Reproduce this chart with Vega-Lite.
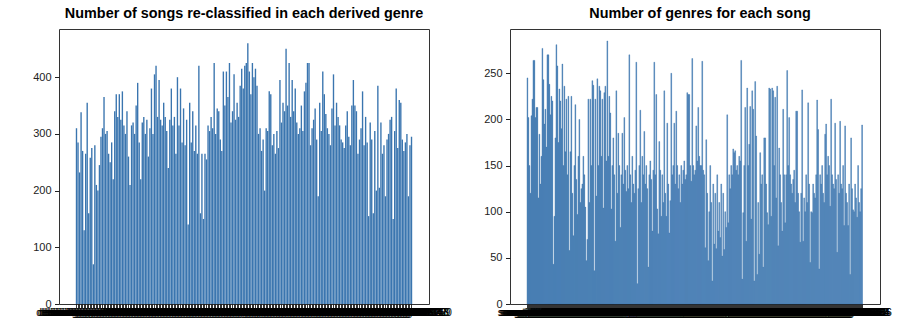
{
"$schema": "https://vega.github.io/schema/vega-lite/v6.json",
"padding": {"left": 32, "top": 5, "right": 0, "bottom": 0},
"spacing": 31,
"config": {
  "view": {"stroke": "#333", "strokeWidth": 1},
  "font": "Liberation Sans",
  "title": {"fontSize": 14.4, "fontWeight": "bold", "color": "#000", "font": "Liberation Sans", "offset": 8},
  "axis": {"grid": false, "domain": false, "tickColor": "#222", "labelColor": "#222", "labelFont": "Liberation Sans", "title": null}
},
"datasets": {
"genres": [
{"genre":"derived genre 001","songs":310},{"genre":"derived genre 002","songs":285},{"genre":"derived genre 003","songs":232},{"genre":"derived genre 004","songs":338},{"genre":"derived genre 005","songs":270},
{"genre":"derived genre 006","songs":130},{"genre":"derived genre 007","songs":265},{"genre":"derived genre 008","songs":355},{"genre":"derived genre 009","songs":160},{"genre":"derived genre 010","songs":258},
{"genre":"derived genre 011","songs":275},{"genre":"derived genre 012","songs":70},{"genre":"derived genre 013","songs":280},{"genre":"derived genre 014","songs":210},{"genre":"derived genre 015","songs":200},
{"genre":"derived genre 016","songs":245},{"genre":"derived genre 017","songs":295},{"genre":"derived genre 018","songs":310},{"genre":"derived genre 019","songs":365},{"genre":"derived genre 020","songs":300},
{"genre":"derived genre 021","songs":305},{"genre":"derived genre 022","songs":265},{"genre":"derived genre 023","songs":250},{"genre":"derived genre 024","songs":285},{"genre":"derived genre 025","songs":220},
{"genre":"derived genre 026","songs":340},{"genre":"derived genre 027","songs":370},{"genre":"derived genre 028","songs":330},{"genre":"derived genre 029","songs":370},{"genre":"derived genre 030","songs":325},
{"genre":"derived genre 031","songs":375},{"genre":"derived genre 032","songs":315},{"genre":"derived genre 033","songs":300},{"genre":"derived genre 034","songs":340},{"genre":"derived genre 035","songs":260},
{"genre":"derived genre 036","songs":210},{"genre":"derived genre 037","songs":315},{"genre":"derived genre 038","songs":320},{"genre":"derived genre 039","songs":300},{"genre":"derived genre 040","songs":350},
{"genre":"derived genre 041","songs":390},{"genre":"derived genre 042","songs":285},{"genre":"derived genre 043","songs":220},{"genre":"derived genre 044","songs":320},{"genre":"derived genre 045","songs":330},
{"genre":"derived genre 046","songs":300},{"genre":"derived genre 047","songs":325},{"genre":"derived genre 048","songs":260},{"genre":"derived genre 049","songs":310},{"genre":"derived genre 050","songs":380},
{"genre":"derived genre 051","songs":300},{"genre":"derived genre 052","songs":405},{"genre":"derived genre 053","songs":420},{"genre":"derived genre 054","songs":330},{"genre":"derived genre 055","songs":395},
{"genre":"derived genre 056","songs":325},{"genre":"derived genre 057","songs":315},{"genre":"derived genre 058","songs":355},{"genre":"derived genre 059","songs":330},{"genre":"derived genre 060","songs":305},
{"genre":"derived genre 061","songs":240},{"genre":"derived genre 062","songs":325},{"genre":"derived genre 063","songs":380},{"genre":"derived genre 064","songs":315},{"genre":"derived genre 065","songs":330},
{"genre":"derived genre 066","songs":265},{"genre":"derived genre 067","songs":400},{"genre":"derived genre 068","songs":315},{"genre":"derived genre 069","songs":380},{"genre":"derived genre 070","songs":285},
{"genre":"derived genre 071","songs":345},{"genre":"derived genre 072","songs":280},{"genre":"derived genre 073","songs":325},{"genre":"derived genre 074","songs":140},{"genre":"derived genre 075","songs":355},
{"genre":"derived genre 076","songs":285},{"genre":"derived genre 077","songs":340},{"genre":"derived genre 078","songs":270},{"genre":"derived genre 079","songs":315},{"genre":"derived genre 080","songs":265},
{"genre":"derived genre 081","songs":420},{"genre":"derived genre 082","songs":160},{"genre":"derived genre 083","songs":265},{"genre":"derived genre 084","songs":150},{"genre":"derived genre 085","songs":265},
{"genre":"derived genre 086","songs":255},{"genre":"derived genre 087","songs":315},{"genre":"derived genre 088","songs":305},{"genre":"derived genre 089","songs":330},{"genre":"derived genre 090","songs":310},
{"genre":"derived genre 091","songs":425},{"genre":"derived genre 092","songs":300},{"genre":"derived genre 093","songs":345},{"genre":"derived genre 094","songs":340},{"genre":"derived genre 095","songs":290},
{"genre":"derived genre 096","songs":270},{"genre":"derived genre 097","songs":410},{"genre":"derived genre 098","songs":350},{"genre":"derived genre 099","songs":410},{"genre":"derived genre 100","songs":365},
{"genre":"derived genre 101","songs":425},{"genre":"derived genre 102","songs":320},{"genre":"derived genre 103","songs":340},{"genre":"derived genre 104","songs":405},{"genre":"derived genre 105","songs":325},
{"genre":"derived genre 106","songs":355},{"genre":"derived genre 107","songs":330},{"genre":"derived genre 108","songs":385},{"genre":"derived genre 109","songs":415},{"genre":"derived genre 110","songs":380},
{"genre":"derived genre 111","songs":420},{"genre":"derived genre 112","songs":425},{"genre":"derived genre 113","songs":460},{"genre":"derived genre 114","songs":410},{"genre":"derived genre 115","songs":370},
{"genre":"derived genre 116","songs":425},{"genre":"derived genre 117","songs":400},{"genre":"derived genre 118","songs":415},{"genre":"derived genre 119","songs":385},{"genre":"derived genre 120","songs":300},
{"genre":"derived genre 121","songs":310},{"genre":"derived genre 122","songs":270},{"genre":"derived genre 123","songs":290},{"genre":"derived genre 124","songs":200},{"genre":"derived genre 125","songs":310},
{"genre":"derived genre 126","songs":305},{"genre":"derived genre 127","songs":375},{"genre":"derived genre 128","songs":370},{"genre":"derived genre 129","songs":280},{"genre":"derived genre 130","songs":300},
{"genre":"derived genre 131","songs":265},{"genre":"derived genre 132","songs":305},{"genre":"derived genre 133","songs":275},{"genre":"derived genre 134","songs":395},{"genre":"derived genre 135","songs":320},
{"genre":"derived genre 136","songs":355},{"genre":"derived genre 137","songs":340},{"genre":"derived genre 138","songs":450},{"genre":"derived genre 139","songs":350},{"genre":"derived genre 140","songs":425},
{"genre":"derived genre 141","songs":330},{"genre":"derived genre 142","songs":395},{"genre":"derived genre 143","songs":340},{"genre":"derived genre 144","songs":380},{"genre":"derived genre 145","songs":320},
{"genre":"derived genre 146","songs":300},{"genre":"derived genre 147","songs":310},{"genre":"derived genre 148","songs":350},{"genre":"derived genre 149","songs":305},{"genre":"derived genre 150","songs":375},
{"genre":"derived genre 151","songs":390},{"genre":"derived genre 152","songs":425},{"genre":"derived genre 153","songs":425},{"genre":"derived genre 154","songs":280},{"genre":"derived genre 155","songs":310},
{"genre":"derived genre 156","songs":325},{"genre":"derived genre 157","songs":345},{"genre":"derived genre 158","songs":290},{"genre":"derived genre 159","songs":190},{"genre":"derived genre 160","songs":355},
{"genre":"derived genre 161","songs":305},{"genre":"derived genre 162","songs":410},{"genre":"derived genre 163","songs":370},{"genre":"derived genre 164","songs":335},{"genre":"derived genre 165","songs":310},
{"genre":"derived genre 166","songs":300},{"genre":"derived genre 167","songs":280},{"genre":"derived genre 168","songs":345},{"genre":"derived genre 169","songs":405},{"genre":"derived genre 170","songs":315},
{"genre":"derived genre 171","songs":355},{"genre":"derived genre 172","songs":330},{"genre":"derived genre 173","songs":315},{"genre":"derived genre 174","songs":290},{"genre":"derived genre 175","songs":285},
{"genre":"derived genre 176","songs":275},{"genre":"derived genre 177","songs":315},{"genre":"derived genre 178","songs":340},{"genre":"derived genre 179","songs":295},{"genre":"derived genre 180","songs":280},
{"genre":"derived genre 181","songs":350},{"genre":"derived genre 182","songs":395},{"genre":"derived genre 183","songs":350},{"genre":"derived genre 184","songs":340},{"genre":"derived genre 185","songs":265},
{"genre":"derived genre 186","songs":290},{"genre":"derived genre 187","songs":310},{"genre":"derived genre 188","songs":375},{"genre":"derived genre 189","songs":280},{"genre":"derived genre 190","songs":330},
{"genre":"derived genre 191","songs":285},{"genre":"derived genre 192","songs":155},{"genre":"derived genre 193","songs":320},{"genre":"derived genre 194","songs":290},{"genre":"derived genre 195","songs":160},
{"genre":"derived genre 196","songs":305},{"genre":"derived genre 197","songs":200},{"genre":"derived genre 198","songs":385},{"genre":"derived genre 199","songs":205},{"genre":"derived genre 200","songs":320},
{"genre":"derived genre 201","songs":265},{"genre":"derived genre 202","songs":280},{"genre":"derived genre 203","songs":190},{"genre":"derived genre 204","songs":290},{"genre":"derived genre 205","songs":300},
{"genre":"derived genre 206","songs":325},{"genre":"derived genre 207","songs":330},{"genre":"derived genre 208","songs":150},{"genre":"derived genre 209","songs":305},{"genre":"derived genre 210","songs":380},
{"genre":"derived genre 211","songs":275},{"genre":"derived genre 212","songs":360},{"genre":"derived genre 213","songs":355},{"genre":"derived genre 214","songs":290},{"genre":"derived genre 215","songs":270},
{"genre":"derived genre 216","songs":285},{"genre":"derived genre 217","songs":300},{"genre":"derived genre 218","songs":190},{"genre":"derived genre 219","songs":280},{"genre":"derived genre 220","songs":295}
],
"songs": [
{"song":"song title 001","genres":245},{"song":"song title 002","genres":202},{"song":"song title 003","genres":150},{"song":"song title 004","genres":120},{"song":"song title 005","genres":204},
{"song":"song title 006","genres":222},{"song":"song title 007","genres":264},{"song":"song title 008","genres":264},{"song":"song title 009","genres":202},{"song":"song title 010","genres":213},
{"song":"song title 011","genres":213},{"song":"song title 012","genres":115},{"song":"song title 013","genres":184},{"song":"song title 014","genres":130},{"song":"song title 015","genres":160},
{"song":"song title 016","genres":277},{"song":"song title 017","genres":243},{"song":"song title 018","genres":195},{"song":"song title 019","genres":211},{"song":"song title 020","genres":170},
{"song":"song title 021","genres":270},{"song":"song title 022","genres":270},{"song":"song title 023","genres":238},{"song":"song title 024","genres":205},{"song":"song title 025","genres":225},
{"song":"song title 026","genres":220},{"song":"song title 027","genres":43},{"song":"song title 028","genres":95},{"song":"song title 029","genres":180},{"song":"song title 030","genres":281},
{"song":"song title 031","genres":258},{"song":"song title 032","genres":175},{"song":"song title 033","genres":233},{"song":"song title 034","genres":220},{"song":"song title 035","genres":190},
{"song":"song title 036","genres":260},{"song":"song title 037","genres":150},{"song":"song title 038","genres":236},{"song":"song title 039","genres":165},{"song":"song title 040","genres":222},
{"song":"song title 041","genres":140},{"song":"song title 042","genres":225},{"song":"song title 043","genres":58},{"song":"song title 044","genres":165},{"song":"song title 045","genres":225},
{"song":"song title 046","genres":120},{"song":"song title 047","genres":74},{"song":"song title 048","genres":150},{"song":"song title 049","genres":216},{"song":"song title 050","genres":135},
{"song":"song title 051","genres":97},{"song":"song title 052","genres":160},{"song":"song title 053","genres":200},{"song":"song title 054","genres":110},{"song":"song title 055","genres":125},
{"song":"song title 056","genres":130},{"song":"song title 057","genres":160},{"song":"song title 058","genres":140},{"song":"song title 059","genres":105},{"song":"song title 060","genres":47},
{"song":"song title 061","genres":70},{"song":"song title 062","genres":222},{"song":"song title 063","genres":110},{"song":"song title 064","genres":222},{"song":"song title 065","genres":150},
{"song":"song title 066","genres":242},{"song":"song title 067","genres":237},{"song":"song title 068","genres":36},{"song":"song title 069","genres":222},{"song":"song title 070","genres":117},
{"song":"song title 071","genres":244},{"song":"song title 072","genres":150},{"song":"song title 073","genres":236},{"song":"song title 074","genres":231},{"song":"song title 075","genres":160},
{"song":"song title 076","genres":222},{"song":"song title 077","genres":104},{"song":"song title 078","genres":229},{"song":"song title 079","genres":236},{"song":"song title 080","genres":155},
{"song":"song title 081","genres":285},{"song":"song title 082","genres":160},{"song":"song title 083","genres":225},{"song":"song title 084","genres":207},{"song":"song title 085","genres":103},
{"song":"song title 086","genres":150},{"song":"song title 087","genres":180},{"song":"song title 088","genres":140},{"song":"song title 089","genres":68},{"song":"song title 090","genres":231},
{"song":"song title 091","genres":120},{"song":"song title 092","genres":185},{"song":"song title 093","genres":150},{"song":"song title 094","genres":83},{"song":"song title 095","genres":140},
{"song":"song title 096","genres":185},{"song":"song title 097","genres":130},{"song":"song title 098","genres":202},{"song":"song title 099","genres":145},{"song":"song title 100","genres":122},
{"song":"song title 101","genres":150},{"song":"song title 102","genres":125},{"song":"song title 103","genres":270},{"song":"song title 104","genres":140},{"song":"song title 105","genres":110},
{"song":"song title 106","genres":160},{"song":"song title 107","genres":130},{"song":"song title 108","genres":120},{"song":"song title 109","genres":145},{"song":"song title 110","genres":262},
{"song":"song title 111","genres":22},{"song":"song title 112","genres":125},{"song":"song title 113","genres":150},{"song":"song title 114","genres":210},{"song":"song title 115","genres":110},
{"song":"song title 116","genres":160},{"song":"song title 117","genres":140},{"song":"song title 118","genres":187},{"song":"song title 119","genres":130},{"song":"song title 120","genres":150},
{"song":"song title 121","genres":125},{"song":"song title 122","genres":40},{"song":"song title 123","genres":140},{"song":"song title 124","genres":155},{"song":"song title 125","genres":135},
{"song":"song title 126","genres":79},{"song":"song title 127","genres":145},{"song":"song title 128","genres":262},{"song":"song title 129","genres":140},{"song":"song title 130","genres":227},
{"song":"song title 131","genres":103},{"song":"song title 132","genres":76},{"song":"song title 133","genres":176},{"song":"song title 134","genres":145},{"song":"song title 135","genres":95},
{"song":"song title 136","genres":140},{"song":"song title 137","genres":110},{"song":"song title 138","genres":231},{"song":"song title 139","genres":120},{"song":"song title 140","genres":95},
{"song":"song title 141","genres":196},{"song":"song title 142","genres":130},{"song":"song title 143","genres":77},{"song":"song title 144","genres":112},{"song":"song title 145","genres":250},
{"song":"song title 146","genres":140},{"song":"song title 147","genres":150},{"song":"song title 148","genres":196},{"song":"song title 149","genres":130},{"song":"song title 150","genres":209},
{"song":"song title 151","genres":150},{"song":"song title 152","genres":125},{"song":"song title 153","genres":140},{"song":"song title 154","genres":110},{"song":"song title 155","genres":150},
{"song":"song title 156","genres":130},{"song":"song title 157","genres":145},{"song":"song title 158","genres":155},{"song":"song title 159","genres":135},{"song":"song title 160","genres":140},
{"song":"song title 161","genres":229},{"song":"song title 162","genres":227},{"song":"song title 163","genres":227},{"song":"song title 164","genres":150},{"song":"song title 165","genres":133},
{"song":"song title 166","genres":266},{"song":"song title 167","genres":150},{"song":"song title 168","genres":140},{"song":"song title 169","genres":145},{"song":"song title 170","genres":193},
{"song":"song title 171","genres":155},{"song":"song title 172","genres":213},{"song":"song title 173","genres":160},{"song":"song title 174","genres":150},{"song":"song title 175","genres":150},
{"song":"song title 176","genres":263},{"song":"song title 177","genres":145},{"song":"song title 178","genres":140},{"song":"song title 179","genres":61},{"song":"song title 180","genres":178},
{"song":"song title 181","genres":120},{"song":"song title 182","genres":47},{"song":"song title 183","genres":100},{"song":"song title 184","genres":150},{"song":"song title 185","genres":110},
{"song":"song title 186","genres":25},{"song":"song title 187","genres":130},{"song":"song title 188","genres":65},{"song":"song title 189","genres":120},{"song":"song title 190","genres":60},
{"song":"song title 191","genres":140},{"song":"song title 192","genres":79},{"song":"song title 193","genres":110},{"song":"song title 194","genres":72},{"song":"song title 195","genres":130},
{"song":"song title 196","genres":52},{"song":"song title 197","genres":120},{"song":"song title 198","genres":59},{"song":"song title 199","genres":100},{"song":"song title 200","genres":83},
{"song":"song title 201","genres":205},{"song":"song title 202","genres":88},{"song":"song title 203","genres":140},{"song":"song title 204","genres":125},{"song":"song title 205","genres":150},
{"song":"song title 206","genres":140},{"song":"song title 207","genres":168},{"song":"song title 208","genres":164},{"song":"song title 209","genres":166},{"song":"song title 210","genres":145},
{"song":"song title 211","genres":150},{"song":"song title 212","genres":140},{"song":"song title 213","genres":160},{"song":"song title 214","genres":155},{"song":"song title 215","genres":264},
{"song":"song title 216","genres":27},{"song":"song title 217","genres":99},{"song":"song title 218","genres":150},{"song":"song title 219","genres":213},{"song":"song title 220","genres":68},
{"song":"song title 221","genres":234},{"song":"song title 222","genres":150},{"song":"song title 223","genres":173},{"song":"song title 224","genres":214},{"song":"song title 225","genres":92},
{"song":"song title 226","genres":231},{"song":"song title 227","genres":211},{"song":"song title 228","genres":25},{"song":"song title 229","genres":241},{"song":"song title 230","genres":182},
{"song":"song title 231","genres":32},{"song":"song title 232","genres":110},{"song":"song title 233","genres":54},{"song":"song title 234","genres":164},{"song":"song title 235","genres":130},
{"song":"song title 236","genres":140},{"song":"song title 237","genres":40},{"song":"song title 238","genres":180},{"song":"song title 239","genres":180},{"song":"song title 240","genres":130},
{"song":"song title 241","genres":99},{"song":"song title 242","genres":86},{"song":"song title 243","genres":234},{"song":"song title 244","genres":233},{"song":"song title 245","genres":95},
{"song":"song title 246","genres":234},{"song":"song title 247","genres":231},{"song":"song title 248","genres":150},{"song":"song title 249","genres":224},{"song":"song title 250","genres":115},
{"song":"song title 251","genres":236},{"song":"song title 252","genres":63},{"song":"song title 253","genres":169},{"song":"song title 254","genres":140},{"song":"song title 255","genres":110},
{"song":"song title 256","genres":79},{"song":"song title 257","genres":211},{"song":"song title 258","genres":140},{"song":"song title 259","genres":88},{"song":"song title 260","genres":140},
{"song":"song title 261","genres":253},{"song":"song title 262","genres":150},{"song":"song title 263","genres":202},{"song":"song title 264","genres":140},{"song":"song title 265","genres":130},
{"song":"song title 266","genres":120},{"song":"song title 267","genres":135},{"song":"song title 268","genres":145},{"song":"song title 269","genres":110},{"song":"song title 270","genres":209},
{"song":"song title 271","genres":209},{"song":"song title 272","genres":120},{"song":"song title 273","genres":100},{"song":"song title 274","genres":67},{"song":"song title 275","genres":120},
{"song":"song title 276","genres":232},{"song":"song title 277","genres":68},{"song":"song title 278","genres":115},{"song":"song title 279","genres":100},{"song":"song title 280","genres":140},
{"song":"song title 281","genres":110},{"song":"song title 282","genres":218},{"song":"song title 283","genres":130},{"song":"song title 284","genres":45},{"song":"song title 285","genres":100},
{"song":"song title 286","genres":99},{"song":"song title 287","genres":130},{"song":"song title 288","genres":120},{"song":"song title 289","genres":115},{"song":"song title 290","genres":140},
{"song":"song title 291","genres":221},{"song":"song title 292","genres":189},{"song":"song title 293","genres":38},{"song":"song title 294","genres":140},{"song":"song title 295","genres":130},
{"song":"song title 296","genres":150},{"song":"song title 297","genres":120},{"song":"song title 298","genres":110},{"song":"song title 299","genres":184},{"song":"song title 300","genres":195},
{"song":"song title 301","genres":140},{"song":"song title 302","genres":160},{"song":"song title 303","genres":150},{"song":"song title 304","genres":106},{"song":"song title 305","genres":222},
{"song":"song title 306","genres":140},{"song":"song title 307","genres":130},{"song":"song title 308","genres":125},{"song":"song title 309","genres":196},{"song":"song title 310","genres":135},
{"song":"song title 311","genres":56},{"song":"song title 312","genres":140},{"song":"song title 313","genres":120},{"song":"song title 314","genres":198},{"song":"song title 315","genres":130},
{"song":"song title 316","genres":125},{"song":"song title 317","genres":150},{"song":"song title 318","genres":85},{"song":"song title 319","genres":193},{"song":"song title 320","genres":120},
{"song":"song title 321","genres":110},{"song":"song title 322","genres":85},{"song":"song title 323","genres":130},{"song":"song title 324","genres":32},{"song":"song title 325","genres":180},
{"song":"song title 326","genres":125},{"song":"song title 327","genres":102},{"song":"song title 328","genres":100},{"song":"song title 329","genres":130},{"song":"song title 330","genres":115},
{"song":"song title 331","genres":94},{"song":"song title 332","genres":150},{"song":"song title 333","genres":110},{"song":"song title 334","genres":100},{"song":"song title 335","genres":125},
{"song":"song title 336","genres":194}
]
},
"hconcat": [
  {
    "title": "Number of songs re-classified in each derived genre",
    "width": 370,
    "height": 275,
    "data": {"name": "genres"},
    "mark": {"type": "bar", "color": "#3a75af"},
    "encoding": {
      "x": {"field": "genre", "type": "nominal", "sort": null,
            "scale": {"paddingInner": 0.1, "paddingOuter": 0, "range": [16.8, 353.2]},
            "axis": {"labelAngle": 0, "labelOverlap": false, "labelFontSize": 10, "labelColor": "#000", "tickSize": 3.5, "tickWidth": 0.8, "tickColor": "#000", "labelPadding": 0, "labelBound": false, "labelFlush": false}},
      "y": {"field": "songs", "type": "quantitative",
            "scale": {"domain": [0, 485], "nice": false},
            "axis": {"values": [0, 100, 200, 300, 400], "tickSize": 4.5, "labelPadding": 3.5, "labelFontSize": 11}}
    }
  },
  {
    "title": {"text": "Number of genres for each song", "dx": 5},
    "width": 370,
    "height": 275,
    "data": {"name": "songs"},
    "mark": {"type": "bar", "color": "#3a75af", "stroke": "#3a75af", "strokeWidth": 0.4},
    "encoding": {
      "x": {"field": "song", "type": "nominal", "sort": null,
            "scale": {"paddingInner": 0.2, "paddingOuter": 0, "range": [17, 352.5]},
            "axis": {"labelAngle": 0, "labelOverlap": false, "labelFontSize": 10, "labelColor": "#000", "tickSize": 3.5, "tickWidth": 0.8, "tickColor": "#000", "labelPadding": 0, "labelBound": false, "labelFlush": false}},
      "y": {"field": "genres", "type": "quantitative",
            "scale": {"domain": [0, 298], "nice": false},
            "axis": {"values": [0, 50, 100, 150, 200, 250], "tickSize": 4.5, "labelPadding": 3.5, "labelFontSize": 11}}
    }
  }
]
}
